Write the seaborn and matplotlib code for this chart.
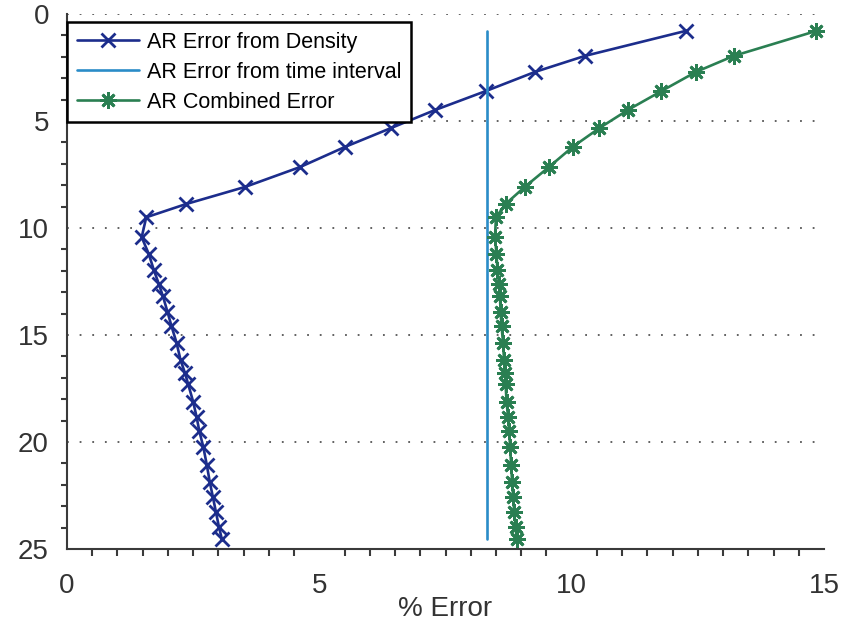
import matplotlib
matplotlib.use("Agg")
import matplotlib.pyplot as plt
import seaborn as sns
import pandas as pd
from matplotlib.ticker import MultipleLocator
from matplotlib import font_manager

depth = [0.79, 1.96, 2.71, 3.60, 4.49, 5.33, 6.21, 7.15, 8.08, 8.88,
         9.50, 10.43, 11.21, 11.96, 12.62, 13.18, 13.91, 14.58, 15.36, 16.17,
         16.79, 17.29, 18.12, 18.85, 19.47, 20.22, 21.07, 21.88, 22.56, 23.26,
         23.96, 24.55]
density_err = [12.26, 10.26, 9.27, 8.30, 7.29, 6.42, 5.51, 4.62, 3.53, 2.36,
               1.57, 1.48, 1.62, 1.72, 1.82, 1.90, 1.99, 2.07, 2.17, 2.25,
               2.34, 2.40, 2.50, 2.57, 2.62, 2.70, 2.77, 2.83, 2.89, 2.95,
               3.01, 3.07]
combined_err = [14.85, 13.21, 12.46, 11.78, 11.11, 10.55, 10.02, 9.55, 9.07, 8.69,
                8.50, 8.48, 8.51, 8.53, 8.56, 8.58, 8.59, 8.61, 8.64, 8.66,
                8.68, 8.69, 8.71, 8.74, 8.76, 8.78, 8.80, 8.82, 8.84, 8.86,
                8.89, 8.91]
time_depth = [0.79, 24.55]
time_err = [8.33, 8.33]

labels = ["AR Error from Density", "AR Error from time interval", "AR Combined Error"]
colors = ["#1c2d8c", "#2a8cc8", "#2a7f52"]

sns.set_theme(style="white")
plt.rcParams['font.family'] = ['Liberation Sans', 'DejaVu Sans']
names = {f.name for f in font_manager.fontManager.ttflist}
narrow = 'Liberation Sans Narrow' if 'Liberation Sans Narrow' in names else 'Liberation Sans'

fig = plt.figure(figsize=(8.44, 6.32), dpi=100)
ax = fig.add_axes([67/844, 1-549/632, (824-67)/844, (549-14)/632])

df_d = pd.DataFrame({"err": density_err, "depth": depth})
df_t = pd.DataFrame({"err": time_err, "depth": time_depth})
df_c = pd.DataFrame({"err": combined_err, "depth": depth})

sns.lineplot(data=df_d, x="err", y="depth", sort=False, estimator=None, ax=ax,
             color=colors[0], lw=1.9, marker="x", markersize=10, markeredgewidth=2,
             markeredgecolor=colors[0], label=labels[0])
sns.lineplot(data=df_t, x="err", y="depth", sort=False, estimator=None, ax=ax,
             color=colors[1], lw=1.9, label=labels[1])
sns.lineplot(data=df_c, x="err", y="depth", sort=False, estimator=None, ax=ax,
             color=colors[2], lw=1.9, marker=(8, 2, 0), markersize=12, markeredgewidth=2,
             markeredgecolor=colors[2], label=labels[2])

ax.set_xlim(0, 15)
ax.set_ylim(25, 0)
ax.xaxis.set_major_locator(MultipleLocator(5))
ax.xaxis.set_minor_locator(MultipleLocator(0.5))
ax.yaxis.set_major_locator(MultipleLocator(5))
ax.yaxis.set_minor_locator(MultipleLocator(1))

for s in ["top", "right"]:
    ax.spines[s].set_visible(False)
for s in ["left", "bottom"]:
    ax.spines[s].set_color("#3a3a3a")
    ax.spines[s].set_linewidth(1.5)

ax.tick_params(axis="both", which="major", direction="out", color="#3a3a3a",
               width=1.5, labelcolor="#333333")
ax.tick_params(axis="x", which="major", length=10, pad=7, labelsize=20)
ax.tick_params(axis="x", which="minor", bottom=True, length=5, width=1.5, color="#3a3a3a", direction="out")
ax.tick_params(axis="y", which="major", length=9, pad=4, labelsize=20)
ax.tick_params(axis="y", which="minor", left=True, length=4, width=1.5, color="#3a3a3a", direction="out")
for t in ax.get_xticklabels():
    t.set_fontfamily([narrow, 'DejaVu Sans'])

for yv in [0, 5, 10, 15, 20]:
    ax.axhline(yv, color="#555555", lw=1.3, linestyle=(0, (1, 6)), zorder=0)

ax.set_xlabel("% Error", fontsize=20, color="#333333", family=[narrow, 'DejaVu Sans'], labelpad=-2)
ax.set_ylabel("")

leg = ax.legend(loc="upper left", bbox_to_anchor=(0.0, 1 - 8/535), borderaxespad=0,
                fontsize=15.5, frameon=True, fancybox=False, edgecolor="black",
                framealpha=1, handlelength=2.9, handletextpad=0.35,
                labelspacing=0.42, borderpad=0.45)
leg.get_frame().set_linewidth(1.8)
for t in leg.get_texts():
    t.set_color("black")

fig.savefig("out.png", dpi=100)
